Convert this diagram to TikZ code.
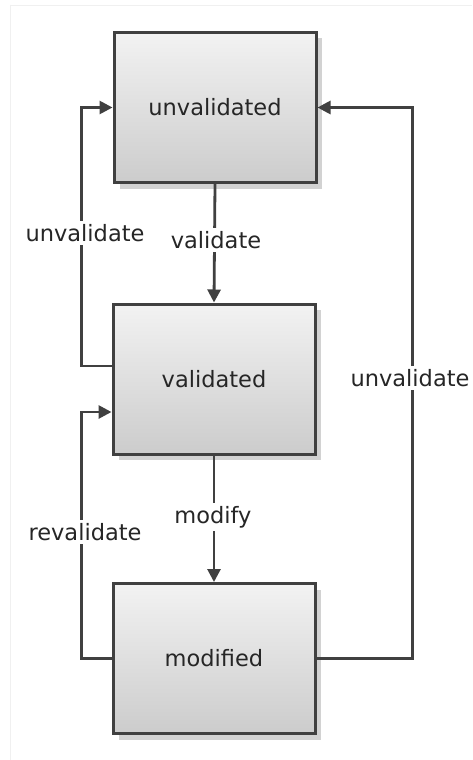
\documentclass[tikz,border=0pt]{standalone}
\usepackage{fontspec}
\setmainfont{DejaVu Sans}
\usetikzlibrary{arrows.meta,shadows}
\definecolor{edge}{HTML}{404040}
\tikzset{
  state/.style={rectangle, minimum width=202pt, minimum height=150pt,
    draw=edge, line width=3pt, top color=black!5, bottom color=black!20,
    drop shadow={shadow xshift=6pt, shadow yshift=-6pt, fill=black!22, opacity=0.8},
    font=\fontsize{22.5}{26}\selectfont, text=black!85},
  conn/.style={draw=edge, line width=2.8pt,
    -{Triangle[length=13pt,width=13pt]}},
  lbl/.style={fill=white, inner sep=3pt, font=\fontsize{22.5}{26}\selectfont, text=black!85}
}
\begin{document}
\begin{tikzpicture}[x=1pt,y=-1pt]
  \useasboundingbox (0,0) rectangle (472,760);
  \fill[white] (0,0) rectangle (472,760);
  \draw[black!6, line width=0.8pt] (10,5) -- (472,5);
  \draw[black!6, line width=0.8pt] (10,5) -- (10,760);

  % states
  \node[state] (unv) at (215,107.5) {unvalidated};
  \node[state] (val) at (214,379) {validated};
  \node[state] (mod) at (214,658.5) {modified};

  % forward transitions
  \draw[conn] (unv.south) -- (val.north);
  \draw[conn] (val.south) -- (mod.north);

  % back transitions
  \draw[conn] ([yshift=13pt]val.west) -- ++(-30,0) |- (unv.west);
  \draw[conn] (mod.west) -- ++(-30,0) |- ([yshift=-33pt]val.west);
  \draw[conn] (mod.east) -- ++(96,0) |- (unv.east);

  % transition labels
  \node[lbl] (l1) at (216,240) {validate};
  \node[lbl] (l2) at (213,517) {modify};
  \node[lbl] (l3) at (85,233) {unvalidate};
  \node[lbl] (l4) at (85,532) {revalidate};
  \node[lbl] (l5) at (410,378) {unvalidate};
\end{tikzpicture}
\end{document}
